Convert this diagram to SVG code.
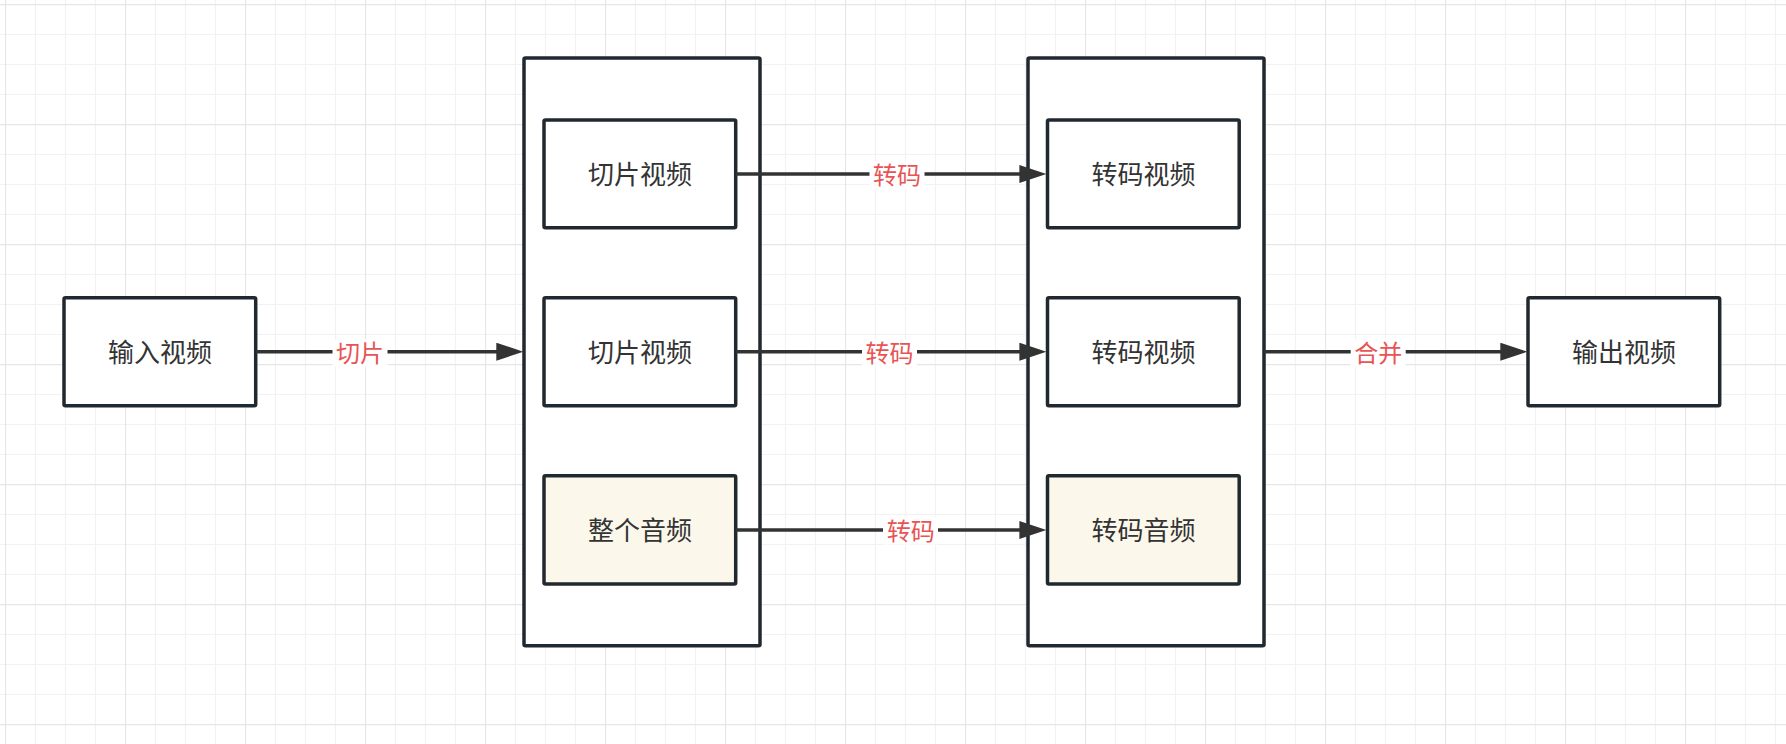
<svg xmlns="http://www.w3.org/2000/svg" width="1786" height="744" viewBox="0 0 1786 744">
<style>
.box{fill:#ffffff;stroke:#212930;stroke-width:3.5}
.audio{fill:#fbf8eb}
.ntext{font-family:"Noto Sans CJK SC","Noto Sans",sans-serif;font-size:26px;fill:#333333;text-anchor:middle}
.edge{stroke:#333333;stroke-width:3.5;fill:none}
.lbg{fill:#ffffff}
.ltext{font-family:"Noto Sans CJK SC","Noto Sans",sans-serif;font-size:24px;fill:#e85454;text-anchor:middle}
</style>
<defs>
<pattern id="grid" patternUnits="userSpaceOnUse" x="5" y="4" width="120" height="120">
<path d="M30.5 0V120M60.5 0V120M90.5 0V120M0 30.5H120M0 60.5H120M0 90.5H120" stroke="#f2f2f2" stroke-width="1.2" fill="none"/>
<path d="M0.5 0V120M0 0.5H120" stroke="#e6e6e6" stroke-width="1.3" fill="none"/>
</pattern>
<marker id="arrow" markerUnits="userSpaceOnUse" markerWidth="28" markerHeight="18" refX="7" refY="9" orient="auto" viewBox="0 0 28 18">
<path d="M0 0L27 9L0 18Z" fill="#333333"/>
</marker>
</defs>
<rect width="1786" height="744" fill="#ffffff"/>
<rect width="1786" height="744" fill="url(#grid)"/>

<g id="container-left"><rect class="box" x="524" y="58" width="236" height="587.7" rx="1.5"/></g>
<g id="container-right"><rect class="box" x="1028" y="58" width="236" height="587.7" rx="1.5"/></g>

<g id="input"><rect class="box" x="64" y="297.7" width="191.7" height="108" rx="1.5"/><text class="ntext" x="160" y="361.7">输入视频</text></g>

<g id="slice1"><rect class="box" x="544" y="120" width="191.7" height="107.7" rx="1.5"/><text class="ntext" x="640" y="184">切片视频</text></g>
<g id="slice2"><rect class="box" x="544" y="297.7" width="191.7" height="108" rx="1.5"/><text class="ntext" x="640" y="361.7">切片视频</text></g>
<g id="audio"><rect class="box audio" x="544" y="475.7" width="191.7" height="108.3" rx="1.5"/><text class="ntext" x="640" y="540">整个音频</text></g>

<g id="trans1"><rect class="box" x="1047.5" y="120" width="191.7" height="107.7" rx="1.5"/><text class="ntext" x="1143.5" y="184">转码视频</text></g>
<g id="trans2"><rect class="box" x="1047.5" y="297.7" width="191.7" height="108" rx="1.5"/><text class="ntext" x="1143.5" y="361.7">转码视频</text></g>
<g id="transaudio"><rect class="box audio" x="1047.5" y="475.7" width="191.7" height="108.3" rx="1.5"/><text class="ntext" x="1143.5" y="540">转码音频</text></g>

<g id="output"><rect class="box" x="1528" y="297.7" width="191.7" height="108" rx="1.5"/><text class="ntext" x="1624" y="361.7">输出视频</text></g>

<g id="connectors">
<line class="edge" x1="255.7" y1="351.7" x2="503.3" y2="351.7" marker-end="url(#arrow)"/>
<rect class="lbg" x="332.5" y="339.5" width="55" height="27"/>
<text class="ltext" x="360" y="362">切片</text>

<line class="edge" x1="735.7" y1="174" x2="1026.4" y2="174" marker-end="url(#arrow)"/>
<rect class="lbg" x="869.5" y="161.5" width="55" height="27"/>
<text class="ltext" x="897" y="184.3">转码</text>

<line class="edge" x1="735.7" y1="351.7" x2="1026.4" y2="351.7" marker-end="url(#arrow)"/>
<rect class="lbg" x="862" y="339.5" width="55" height="27"/>
<text class="ltext" x="889.5" y="362">转码</text>

<line class="edge" x1="735.7" y1="530" x2="1026.4" y2="530" marker-end="url(#arrow)"/>
<rect class="lbg" x="883" y="517.5" width="55" height="27"/>
<text class="ltext" x="910.7" y="540.3">转码</text>

<line class="edge" x1="1264" y1="351.7" x2="1507.3" y2="351.7" marker-end="url(#arrow)"/>
<rect class="lbg" x="1350.7" y="339.5" width="55" height="27"/>
<text class="ltext" x="1378.2" y="362">合并</text>
</g>
</svg>
